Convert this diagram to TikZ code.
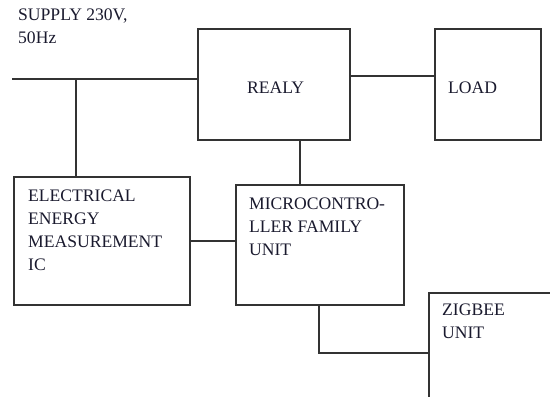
\documentclass[tikz,border=0pt]{standalone}
\usepackage{fontspec}
\setmainfont{Liberation Serif}
\usepackage{xcolor}
\definecolor{cLine}{HTML}{333333}
\definecolor{cText}{HTML}{1A1A2E}
\usetikzlibrary{positioning,calc}
\tikzset{
  node-box/.style={draw=cLine,line width=1.2pt,minimum width=#1,inner sep=0pt},
  node-box/.default=150pt,
  node-text/.style={anchor=base west,inner sep=0pt,align=left,text=cText,
    font=\fontsize{17.6}{23}\selectfont},
  wire/.style={draw=cLine,line width=1.2pt},
}
\begin{document}
\begin{tikzpicture}[x=1pt,y=-1pt]
  \clip (0,0) rectangle (550,397);
  \useasboundingbox (0,0) rectangle (550,397);

  % boxes
  \node[node-box=152pt,minimum height=111pt] (relay) at (274,84.5) {};
  \node[node-box=106pt,minimum height=111pt] (load) at (488,84.5) {};
  \node[node-box=176pt,minimum height=128pt] (eem) at (102,241) {};
  \node[node-box=168pt,minimum height=120pt] (mcu) at (320,245) {};
  \node[node-box=150pt,minimum height=130pt] (zig) at (504,358) {};

  % labels (anchored on the baseline of the last line)
  \node[node-text] (supply) at (18,43) {SUPPLY 230V,\\50Hz};
  \node[node-text] (relay-t) at (247,93) {REALY};
  \node[node-text] (load-t) at (448,93) {LOAD};
  \node[node-text] (eem-t) at (28,270) {ELECTRICAL\\ENERGY\\MEASUREMENT\\IC};
  \node[node-text] (mcu-t) at (249,255) {MICROCONTRO-\\LLER FAMILY\\UNIT};
  \node[node-text] (zig-t) at (442,338) {ZIGBEE\\UNIT};

  % wiring
  \coordinate (mains) at (12,79);
  \coordinate (tap) at (76,79);
  \coordinate (out) at (350,76);
  \draw[wire] (mains) -- (mains -| relay.west);
  \draw[wire] (tap) -- (tap |- eem.north);
  \draw[wire] (out -| relay.east) -- (out -| load.west);
  \draw[wire] (300,0 |- relay.south) -- (300,0 |- mcu.north);
  \draw[wire] (eem.east |- 0,241) -- (mcu.west |- 0,241);
  \draw[wire] (319,0 |- mcu.south) |- (zig.west |- 0,353);
\end{tikzpicture}
\end{document}
